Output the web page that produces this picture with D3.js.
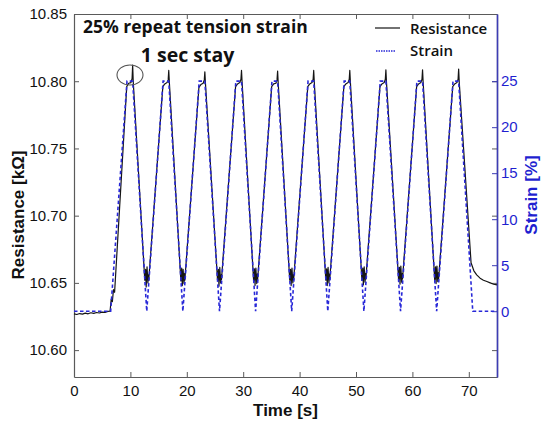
<!DOCTYPE html>
<html>
<head>
<meta charset="utf-8">
<script src="https://cdn.jsdelivr.net/npm/d3@7"></script>
<style>
  html, body { margin: 0; padding: 0; background: #fff; }
  svg { display: block; }
</style>
</head>
<body>
<svg id="chart" width="542" height="427"></svg>
<script>
// ---------------- DATA ----------------
const timeTicks = [0, 10, 20, 30, 40, 50, 60, 70];
const resistanceTicks = [10.60, 10.65, 10.70, 10.75, 10.80, 10.85];
const strainTicks = [0, 5, 10, 15, 20, 25];

// Strain (%) vs time (s)
const strainTime = [0, 6.5, 9.4, 10.4, 12.9, 15.8, 16.8, 19.3, 22.2, 23.2, 25.8, 28.7, 29.7, 32.2,
  35.1, 36.1, 38.6, 41.5, 42.5, 45.0, 47.9, 48.9, 51.4, 54.3, 55.3, 57.9, 60.8, 61.8, 64.3,
  67.2, 68.2, 70.7, 75];
const strainValue = [0, 0, 25, 25, 0, 25, 25, 0, 25, 25, 0, 25, 25, 0,
  25, 25, 0, 25, 25, 0, 25, 25, 0, 25, 25, 0, 25, 25, 0,
  25, 25, 0, 0];

// Resistance (kΩ) vs time (s)
const resistanceTime = [
  0.0, 0.5, 1.0, 1.5, 2.0, 2.5, 3.0, 3.5, 4.0, 4.5, 5.0, 5.5, 6.0, 6.4, 6.6, 6.8, 7.0, 7.2,
  9.35, 9.7, 10.1, 10.3, 10.4, 10.5, 12.55, 12.7, 12.8, 12.95, 13.1, 13.2, 13.25,
  15.75, 16.1, 16.5, 16.7, 16.8, 16.9, 18.95, 19.1, 19.2, 19.35, 19.5, 19.6, 19.65,
  22.15, 22.5, 22.9, 23.1, 23.2, 23.3, 25.45, 25.6, 25.7, 25.85, 26.0, 26.1, 26.15,
  28.65, 29.0, 29.4, 29.6, 29.7, 29.8, 31.85, 32.0, 32.1, 32.25, 32.4, 32.5, 32.55,
  35.05, 35.4, 35.8, 36.0, 36.1, 36.2, 38.25, 38.4, 38.5, 38.65, 38.8, 38.9, 38.95,
  41.45, 41.8, 42.2, 42.4, 42.5, 42.6, 44.65, 44.8, 44.9, 45.05, 45.2, 45.3, 45.35,
  47.85, 48.2, 48.6, 48.8, 48.9, 49.0, 51.05, 51.2, 51.3, 51.45, 51.6, 51.7, 51.75,
  54.25, 54.6, 55.0, 55.2, 55.3, 55.4, 57.55, 57.7, 57.8, 57.95, 58.1, 58.2, 58.25,
  60.75, 61.1, 61.5, 61.7, 61.8, 61.9, 63.95, 64.1, 64.2, 64.35, 64.5, 64.6, 64.65,
  67.15, 67.5, 67.9, 68.1, 68.2, 68.3, 70.4, 70.9, 71.4, 72.0, 72.6, 73.2, 73.8, 74.4, 75.0
];
const resistanceValue = [
  10.6270, 10.6265, 10.6272, 10.6268, 10.6275, 10.6270, 10.6278, 10.6273, 10.6280, 10.6276, 10.6283, 10.6280, 10.6288, 10.6290, 10.6380, 10.6360, 10.6450, 10.6430,
  10.7960, 10.7985, 10.7990, 10.8020, 10.8120, 10.8000, 10.6520, 10.6600, 10.6470, 10.6620, 10.6500, 10.6560, 10.6520,
  10.7960, 10.7980, 10.7990, 10.8010, 10.8080, 10.7995, 10.6515, 10.6610, 10.6480, 10.6600, 10.6495, 10.6570, 10.6520,
  10.7955, 10.7975, 10.7985, 10.8010, 10.8070, 10.7990, 10.6520, 10.6600, 10.6475, 10.6615, 10.6500, 10.6560, 10.6525,
  10.7960, 10.7980, 10.7990, 10.8015, 10.8080, 10.7995, 10.6515, 10.6605, 10.6480, 10.6610, 10.6495, 10.6565, 10.6520,
  10.7960, 10.7980, 10.7985, 10.8010, 10.8075, 10.7990, 10.6520, 10.6600, 10.6480, 10.6610, 10.6500, 10.6560, 10.6525,
  10.7960, 10.7980, 10.7990, 10.8015, 10.8080, 10.7995, 10.6520, 10.6605, 10.6480, 10.6615, 10.6500, 10.6565, 10.6525,
  10.7960, 10.7980, 10.7990, 10.8015, 10.8080, 10.7995, 10.6520, 10.6610, 10.6485, 10.6620, 10.6505, 10.6570, 10.6530,
  10.7960, 10.7980, 10.7990, 10.8015, 10.8085, 10.7995, 10.6525, 10.6615, 10.6490, 10.6625, 10.6505, 10.6570, 10.6530,
  10.7960, 10.7980, 10.7990, 10.8015, 10.8085, 10.7995, 10.6525, 10.6620, 10.6495, 10.6625, 10.6510, 10.6575, 10.6530,
  10.7960, 10.7980, 10.7990, 10.8015, 10.8090, 10.7995, 10.6650, 10.6590, 10.6560, 10.6535, 10.6520, 10.6510, 10.6500, 10.6490, 10.6485
];

const titleText = "25% repeat tension strain";
const noteText = "1 sec stay";
const legendLabels = ["Resistance", "Strain"];

// ---------------- LAYOUT ----------------
const L = 74, R = 497, T = 14, B = 377;
const svg = d3.select("#chart");
const x = d3.scaleLinear().domain([0, 75]).range([L, R]);
const yR = d3.scaleLinear().domain([10.58, 10.85]).range([B, T]);
const yS = d3.scaleLinear().domain([-7.15, 32.3]).range([B, T]);

const axisFont = "'Liberation Sans', Arial, sans-serif";
const annFont = "'Open Sans', 'Noto Sans', sans-serif";
const frameCol = "#5a5a5a";
const blueAxis = "#3c3cb4";
const blueText = "#1f1fd0";

function styleAxis(g, col) {
  g.selectAll(".domain").attr("stroke", col).attr("stroke-width", 1.2);
  g.selectAll(".tick line").attr("stroke", col);
  g.selectAll(".tick text").attr("font-family", axisFont).attr("font-size", 15);
}

// top mirror ticks
const gTop = svg.append("g").attr("transform", `translate(0,${T})`)
  .call(d3.axisTop(x).tickValues(timeTicks).tickSizeInner(-5).tickSizeOuter(0).tickFormat(""));
styleAxis(gTop, frameCol);

// right mirror ticks of resistance axis
const gRm = svg.append("g").attr("transform", `translate(${R},0)`)
  .call(d3.axisRight(yR).tickValues(resistanceTicks).tickSizeInner(-5).tickSizeOuter(0).tickFormat(""));
styleAxis(gRm, frameCol);

// bottom axis
const gB = svg.append("g").attr("transform", `translate(0,${B})`)
  .call(d3.axisBottom(x).tickValues(timeTicks).tickSizeInner(-5).tickSizeOuter(0).tickPadding(8).tickFormat(d3.format("d")));
styleAxis(gB, frameCol);
gB.selectAll(".tick text").attr("fill", "#111");

// left axis
const gL = svg.append("g").attr("transform", `translate(${L},0)`)
  .call(d3.axisLeft(yR).tickValues(resistanceTicks).tickSizeInner(-5).tickSizeOuter(0).tickPadding(7).tickFormat(d3.format(".2f")));
styleAxis(gL, frameCol);
gL.selectAll(".tick text").attr("fill", "#111");

// right strain axis
const gR = svg.append("g").attr("transform", `translate(${R},0)`)
  .call(d3.axisRight(yS).tickValues(strainTicks).tickSizeInner(-5).tickSizeOuter(0).tickPadding(4).tickFormat(d3.format("d")));
styleAxis(gR, blueAxis);
gR.selectAll(".tick text").attr("fill", blueText);
gR.select(".domain").attr("stroke-width", 1.6);

// ---------------- LINES ----------------
const resData = resistanceTime.map((t, i) => [t, resistanceValue[i]]);
const strData = strainTime.map((t, i) => [t, strainValue[i]]);

svg.append("path")
  .datum(resData)
  .attr("fill", "none")
  .attr("stroke", "#151515")
  .attr("stroke-width", 1.2)
  .attr("stroke-linejoin", "round")
  .attr("d", d3.line().x(d => x(d[0])).y(d => yR(d[1])));

svg.append("path")
  .datum(strData)
  .attr("fill", "none")
  .attr("stroke", "#2828d8")
  .attr("stroke-width", 1.6)
  .attr("stroke-dasharray", "3.5,2.5")
  .attr("d", d3.line().x(d => x(d[0])).y(d => yS(d[1])));

// ---------------- TEXT ----------------
svg.append("text").attr("x", 83).attr("y", 33)
  .attr("font-family", annFont).attr("font-weight", 700).attr("font-size", 17.5)
  .attr("fill", "#111").text(titleText);

svg.append("text").attr("x", 187.5).attr("y", 61.5).attr("text-anchor", "middle")
  .attr("font-family", annFont).attr("font-weight", 700).attr("font-size", 19.5)
  .attr("fill", "#111").text(noteText);

svg.append("ellipse").attr("cx", 130).attr("cy", 75).attr("rx", 13).attr("ry", 10)
  .attr("fill", "none").attr("stroke", "#555").attr("stroke-width", 1.1);

// legend
svg.append("line").attr("x1", 375).attr("x2", 400).attr("y1", 28).attr("y2", 28)
  .attr("stroke", "#151515").attr("stroke-width", 1.2);
svg.append("line").attr("x1", 376).attr("x2", 396).attr("y1", 51).attr("y2", 51)
  .attr("stroke", "#2828d8").attr("stroke-width", 1.4).attr("stroke-dasharray", "1.5,1");
svg.append("text").attr("x", 410).attr("y", 34)
  .attr("font-family", annFont).attr("font-weight", 600).attr("font-size", 15)
  .attr("fill", "#111").text(legendLabels[0]);
svg.append("text").attr("x", 410).attr("y", 56)
  .attr("font-family", annFont).attr("font-weight", 600).attr("font-size", 15)
  .attr("fill", "#111").text(legendLabels[1]);

// axis titles
svg.append("text").attr("x", (L + R) / 2).attr("y", 416).attr("text-anchor", "middle")
  .attr("font-family", axisFont).attr("font-weight", 700).attr("font-size", 17)
  .attr("fill", "#111").text("Time [s]");

svg.append("text")
  .attr("transform", "translate(24,215) rotate(-90)")
  .attr("text-anchor", "middle")
  .attr("font-family", axisFont).attr("font-weight", 700).attr("font-size", 17)
  .attr("fill", "#111").text("Resistance [kΩ]");

svg.append("text")
  .attr("transform", "translate(537,195) rotate(-90)")
  .attr("text-anchor", "middle")
  .attr("font-family", axisFont).attr("font-weight", 700).attr("font-size", 17)
  .attr("fill", blueText).text("Strain [%]");
</script>
</body>
</html>
